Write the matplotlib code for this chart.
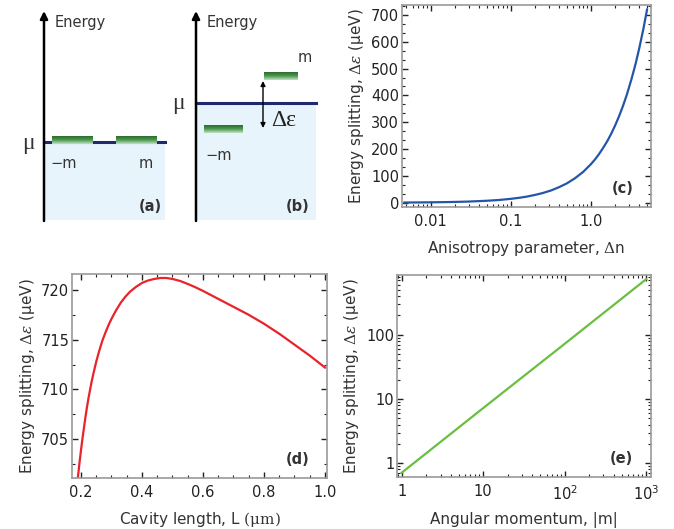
import matplotlib
matplotlib.use("Agg")
import matplotlib.pyplot as plt
import numpy as np
from matplotlib.ticker import FixedLocator, AutoMinorLocator, LogLocator, NullFormatter, FixedFormatter, MultipleLocator
from matplotlib.colors import LinearSegmentedColormap

# ---------------- data ----------------
dn = [0.0047, 0.006, 0.008, 0.01, 0.015, 0.02, 0.03, 0.05, 0.07, 0.1, 0.13, 0.16,
      0.2, 0.25, 0.32, 0.4, 0.5, 0.63, 0.8, 1.0, 1.12, 1.25, 1.4, 1.6, 1.8,
      2.0, 2.25, 2.5, 2.8, 3.2, 3.6, 4.0, 4.5, 5.0]
split_c = [0.68, 0.86, 1.15, 1.44, 2.2, 2.9, 4.3, 7.2, 10, 14.4, 18.7, 23,
           29, 36, 46, 58, 72, 91, 115, 144, 161, 180, 202, 230, 259,
           288, 324, 360, 403, 461, 518, 576, 648, 720]

cav_L = [0.19, 0.195, 0.20, 0.205, 0.21, 0.215, 0.22, 0.225, 0.23, 0.235, 0.24, 0.25,
         0.26, 0.27, 0.28, 0.29, 0.30, 0.315, 0.33, 0.345, 0.36, 0.38, 0.40, 0.42,
         0.44, 0.46, 0.48, 0.50, 0.525, 0.55, 0.575, 0.60, 0.625, 0.65, 0.675, 0.70,
         0.725, 0.75, 0.775, 0.80, 0.825, 0.85, 0.875, 0.90, 0.925, 0.95, 0.975, 1.00]
split_d = [701.2, 702.6, 703.9, 705.1, 706.2, 707.3, 708.3, 709.2, 710.0, 710.8, 711.5, 712.8,
           713.9, 714.9, 715.7, 716.45, 717.1, 717.95, 718.7, 719.3, 719.8, 720.3, 720.7, 720.95,
           721.1, 721.2, 721.2, 721.1, 720.9, 720.6, 720.27, 719.9, 719.5, 719.1, 718.7, 718.3,
           717.9, 717.5, 717.05, 716.6, 716.1, 715.6, 715.05, 714.5, 713.95, 713.4, 712.8, 712.2]

m_vals = [1, 10, 100, 1000]
split_e = [0.71, 7.2, 72, 730]

c_xticks = [0.01, 0.1, 1.0]
c_xticklabels = ["0.01", "0.1", "1.0"]
e_xticks = [1, 10, 100, 1000]
e_xticklabels = ["1", "10", r"$\mathregular{10^2}$", r"$\mathregular{10^3}$"]
e_yticks = [1, 10, 100]
e_yticklabels = ["1", "10", "100"]

# ---------------- style ----------------
plt.rcParams['font.family'] = ['DejaVu Sans']
plt.rcParams['mathtext.fontset'] = 'dejavuserif'
TXT = '#333333'
SPINE = '#9a9a9a'
LABSZ = 11
TICKSZ = 10.5

W, H = 674, 529
fig = plt.figure(figsize=(W / 100, H / 100), dpi=100)


def px_axes(l, t, r, b):
    return fig.add_axes([l / W, 1 - b / H, (r - l) / W, (b - t) / H])


def style(ax):
    for s in ax.spines.values():
        s.set_color(SPINE)
        s.set_linewidth(1.2)
    ax.tick_params(which='both', direction='in', top=True, right=True,
                   colors='#222222', labelsize=TICKSZ)
    ax.tick_params(axis='x', which='both', pad=5)
    ax.tick_params(axis='y', which='both', pad=2)
    ax.tick_params(which='major', length=4, width=1)
    ax.tick_params(which='minor', length=2, width=0.8)


ylab = r'Energy splitting, $\Delta\varepsilon$ (μeV)'

# ---------------- panel (c) ----------------
axc = px_axes(402, 5, 651, 207)
axc.semilogx(dn, split_c, color='#2456a8', lw=1.6)
axc.set_xlim(0.0044, 5.6)
axc.set_ylim(-16, 737)
axc.xaxis.set_major_locator(FixedLocator(c_xticks))
axc.xaxis.set_major_formatter(FixedFormatter(c_xticklabels))
axc.xaxis.set_minor_locator(LogLocator(base=10, subs=np.arange(2, 10)))
axc.xaxis.set_minor_formatter(NullFormatter())
axc.yaxis.set_major_locator(MultipleLocator(100))
axc.yaxis.set_minor_locator(AutoMinorLocator(3))
style(axc)
axc.set_xlabel(r'Anisotropy parameter, $\Delta$n', fontsize=LABSZ, color=TXT, labelpad=7)
axc.set_ylabel(ylab, fontsize=LABSZ, color=TXT, labelpad=4)
axc.text(0.93, 0.09, '(c)', transform=axc.transAxes, ha='right', va='center',
         fontsize=10.5, fontweight='bold', color=TXT)

# ---------------- panel (d) ----------------
axd = px_axes(72, 274, 327, 478)
axd.plot(cav_L, split_d, color='#e8232a', lw=1.6)
axd.set_xlim(0.1705, 1.0066)
axd.set_ylim(701.1, 721.6)
axd.xaxis.set_major_locator(MultipleLocator(0.2))
axd.xaxis.set_minor_locator(AutoMinorLocator(4))
axd.yaxis.set_major_locator(MultipleLocator(5))
axd.yaxis.set_minor_locator(AutoMinorLocator(2))
style(axd)
axd.set_xlabel(r'Cavity length, L $\mathrm{(\mu m)}$', fontsize=LABSZ, color=TXT, labelpad=7)
axd.set_ylabel(ylab, fontsize=LABSZ, color=TXT, labelpad=3)
axd.text(0.93, 0.09, '(d)', transform=axd.transAxes, ha='right', va='center',
         fontsize=10.5, fontweight='bold', color=TXT)

# ---------------- panel (e) ----------------
axe = px_axes(397, 275, 651, 477)
axe.loglog(m_vals, split_e, color='#6abf40', lw=1.6)
axe.set_xlim(0.877, 1150)
axe.set_ylim(0.61, 851)
axe.xaxis.set_major_locator(FixedLocator(e_xticks))
axe.xaxis.set_major_formatter(FixedFormatter(e_xticklabels))
axe.xaxis.set_minor_locator(LogLocator(base=10, subs=np.arange(2, 10)))
axe.xaxis.set_minor_formatter(NullFormatter())
axe.yaxis.set_major_locator(FixedLocator(e_yticks))
axe.yaxis.set_major_formatter(FixedFormatter(e_yticklabels))
axe.yaxis.set_minor_locator(LogLocator(base=10, subs=np.arange(2, 10)))
axe.yaxis.set_minor_formatter(NullFormatter())
style(axe)
axe.set_xlabel('Angular momentum, |m|', fontsize=LABSZ, color=TXT, labelpad=7)
axe.set_ylabel(ylab, fontsize=LABSZ, color=TXT, labelpad=4)
axe.text(0.93, 0.09, '(e)', transform=axe.transAxes, ha='right', va='center',
         fontsize=10.5, fontweight='bold', color=TXT)

# ---------------- schematic panels (a), (b) ----------------
ax0 = fig.add_axes([0, 1 - 230 / H, 340 / W, 230 / H])
ax0.set_axis_off()
green = LinearSegmentedColormap.from_list('g', ['#2a6b2e', '#4e9a52', '#bfe0bf'])
grad = np.linspace(0, 1, 32).reshape(-1, 1)
NAVY = '#1e2a6c'
SHADE = '#e8f4fb'
SERIF = ['Liberation Serif', 'DejaVu Serif']


def bar(x0, x1, y0, y1):
    ax0.imshow(grad, extent=(x0, x1, y1, y0), origin='upper', cmap=green,
               aspect='auto', zorder=4, interpolation='bilinear')


def energy_axis(x):
    ax0.annotate('', xy=(x, 11), xytext=(x, 221),
                 arrowprops=dict(arrowstyle='-|>', lw=1.8, color='black',
                                 mutation_scale=11, shrinkA=0, shrinkB=0))
    ax0.text(x + 11, 22, 'Energy', ha='left', va='center', fontsize=10.5, color=TXT)


# (a)
ax0.add_patch(plt.Rectangle((44, 142), 121, 78, color=SHADE, lw=0, zorder=1))
ax0.plot([44, 165], [142, 142], color=NAVY, lw=2.2, zorder=3)
energy_axis(44)
bar(52, 93, 136, 144)
bar(116, 157, 136, 144)
ax0.text(64, 164, '−m', ha='center', va='center', fontsize=10.5, color=TXT)
ax0.text(146, 164, 'm', ha='center', va='center', fontsize=10.5, color=TXT)
ax0.text(28, 143, 'μ', ha='center', va='center', fontsize=17, color=TXT, family=SERIF)
ax0.text(150, 207, '(a)', ha='center', va='center', fontsize=10.5, fontweight='bold', color=TXT)

# (b)
ax0.add_patch(plt.Rectangle((196, 103), 120, 117, color=SHADE, lw=0, zorder=1))
ax0.plot([196, 316], [103, 103], color=NAVY, lw=2.2, zorder=3)
energy_axis(196)
bar(264, 298, 72, 80)
bar(204, 243, 125, 133)
ax0.annotate('', xy=(263, 81), xytext=(263, 128),
             arrowprops=dict(arrowstyle='<|-|>', lw=1.0, color='black',
                             mutation_scale=7, shrinkA=0, shrinkB=0))
ax0.text(284, 121, 'Δε', ha='center', va='center', fontsize=17, color='#222222', family=SERIF)
ax0.text(305, 58, 'm', ha='center', va='center', fontsize=10.5, color=TXT)
ax0.text(219, 155, '−m', ha='center', va='center', fontsize=10.5, color=TXT)
ax0.text(178, 104, 'μ', ha='center', va='center', fontsize=17, color=TXT, family=SERIF)
ax0.text(298, 207, '(b)', ha='center', va='center', fontsize=10.5, fontweight='bold', color=TXT)

ax0.set_xlim(0, 340)
ax0.set_ylim(230, 0)

fig.savefig('out.png', dpi=100)
